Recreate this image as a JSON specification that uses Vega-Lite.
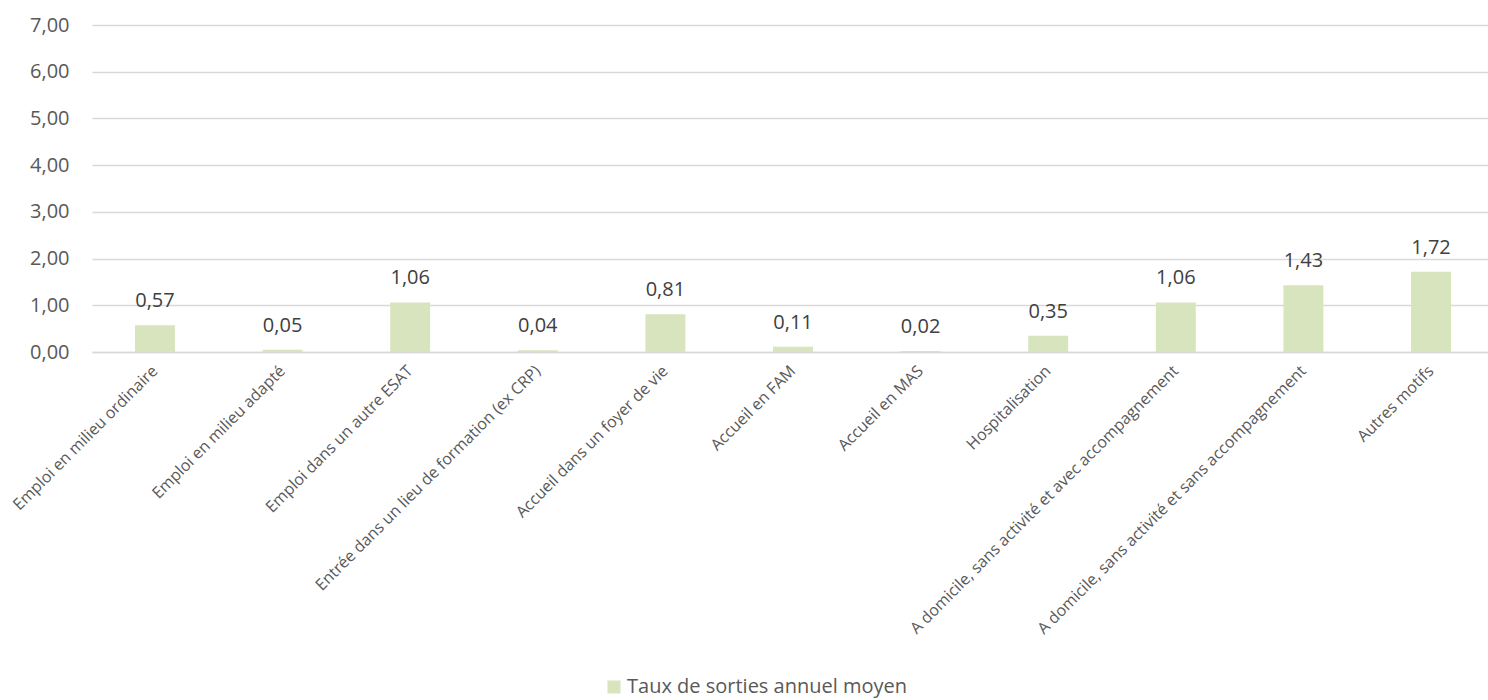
{
  "$schema": "https://vega.github.io/schema/vega-lite/v6.json",
  "width": 1402,
  "height": 327,
  "autosize": "none",
  "padding": {"left": 92, "top": 25, "right": 0, "bottom": 348},
  "background": "white",
  "config": {
    "locale": {"number": {"decimal": ",", "thousands": " ", "grouping": [3], "currency": ["", " €"]}},
    "font": "Open Sans",
    "view": {"stroke": null}
  },
  "data": {"values": [
    {"motif": "Emploi en milieu ordinaire", "taux": 0.57, "serie": "Taux de sorties annuel moyen"},
    {"motif": "Emploi en milieu adapté", "taux": 0.05, "serie": "Taux de sorties annuel moyen"},
    {"motif": "Emploi dans un autre ESAT", "taux": 1.06, "serie": "Taux de sorties annuel moyen"},
    {"motif": "Entrée dans un lieu de formation (ex CRP)", "taux": 0.04, "serie": "Taux de sorties annuel moyen"},
    {"motif": "Accueil dans un foyer de vie", "taux": 0.81, "serie": "Taux de sorties annuel moyen"},
    {"motif": "Accueil en FAM", "taux": 0.11, "serie": "Taux de sorties annuel moyen"},
    {"motif": "Accueil en MAS", "taux": 0.02, "serie": "Taux de sorties annuel moyen"},
    {"motif": "Hospitalisation", "taux": 0.35, "serie": "Taux de sorties annuel moyen"},
    {"motif": "A domicile, sans activité et avec accompagnement", "taux": 1.06, "serie": "Taux de sorties annuel moyen"},
    {"motif": "A domicile, sans activité et sans accompagnement", "taux": 1.43, "serie": "Taux de sorties annuel moyen"},
    {"motif": "Autres motifs", "taux": 1.72, "serie": "Taux de sorties annuel moyen"}
  ]},
  "encoding": {
    "x": {
      "field": "motif", "type": "nominal", "sort": null,
      "scale": {"paddingInner": 0.687, "paddingOuter": 0.337},
      "axis": {
        "title": null, "labelAngle": -45, "labelAlign": "right", "labelBaseline": "middle",
        "labelFontSize": 16, "labelColor": "#595959", "labelPadding": 16, "labelLimit": 600,
        "ticks": false, "domainColor": "#d9d9d9", "domainWidth": 1.5, "grid": false
      }
    },
    "y": {
      "field": "taux", "type": "quantitative",
      "scale": {"domain": [0, 7], "nice": false},
      "axis": {
        "title": null, "values": [0, 1, 2, 3, 4, 5, 6, 7], "format": ".2f",
        "labelFontSize": 20, "labelColor": "#595959", "labelPadding": 23,
        "ticks": false, "domain": false, "gridColor": "#d9d9d9", "gridWidth": 1.5
      }
    }
  },
  "layer": [
    {
      "mark": {"type": "bar"},
      "encoding": {
        "color": {
          "field": "serie", "type": "nominal",
          "scale": {"range": ["#d7e4bd"]},
          "legend": {
            "title": null, "orient": "none", "legendX": 512, "legendY": 652,
            "symbolType": "square", "symbolSize": 170, "symbolStrokeWidth": 0,
            "labelFontSize": 20, "labelColor": "#595959", "labelLimit": 600, "labelOffset": 3
          }
        }
      }
    },
    {
      "mark": {"type": "text", "baseline": "alphabetic", "dy": -18, "fontSize": 20, "color": "#404040"},
      "encoding": {"text": {"field": "taux", "type": "quantitative", "format": ".2f"}}
    }
  ]
}
